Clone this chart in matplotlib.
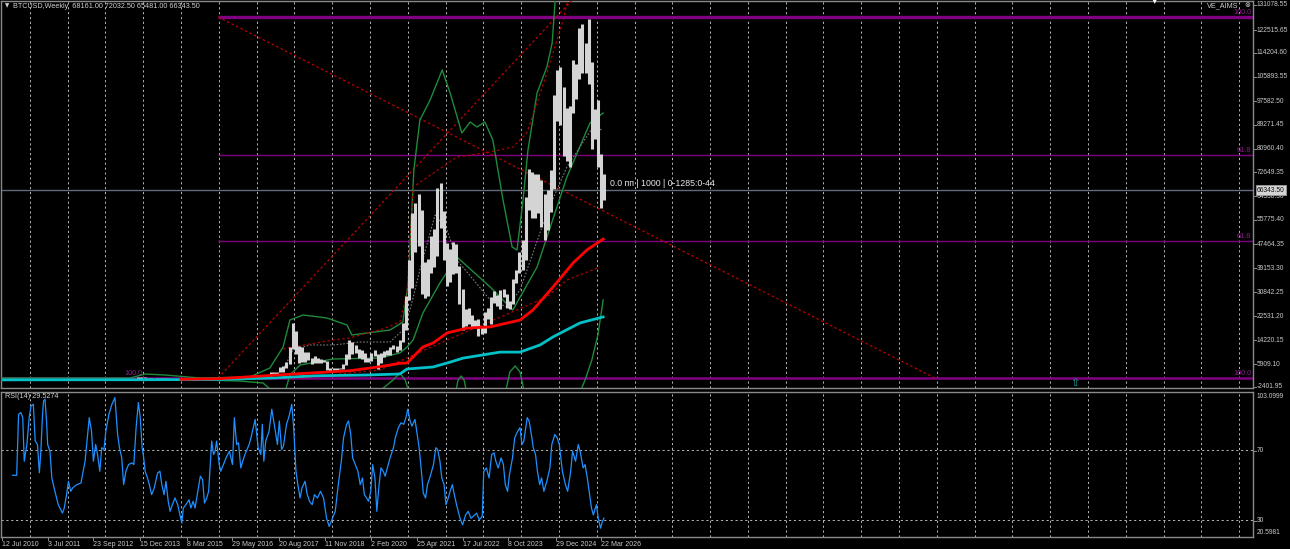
import matplotlib
matplotlib.use("Agg")
import matplotlib.pyplot as plt
import pandas as pd

W, H = 1290, 549

# ---------------- data ----------------
months = pd.date_range("2013-01-01", "2026-03-01", freq="MS")
price_high = [21, 33, 95, 266, 140, 130, 110, 135, 145, 215, 1240, 1150,
              1000, 900, 720, 550, 630, 680, 650, 600, 500, 420, 460, 400,
              320, 265, 300, 260, 250, 270, 320, 290, 250, 330, 500, 470,
              465, 440, 440, 470, 550, 780, 700, 620, 620, 720, 760, 980,
              1150, 1200, 1300, 1350, 2800, 3000, 2950, 4750, 5000, 6450, 11500, 19800,
              17200, 11800, 11700, 9800, 10000, 7800, 8500, 7700, 7400, 7000, 6600, 4300,
              4100, 4200, 4100, 5650, 9000, 13900, 13200, 12300, 10900, 10400, 9500, 7700,
              9600, 10500, 9200, 9450, 10100, 10400, 11450, 12450, 12100, 14100, 19900, 29300,
              42000, 58400, 61800, 64900, 59600, 41300, 42400, 50500, 52900, 67000, 69000, 59100,
              48000, 45800, 48200, 47400, 40000, 31900, 24700, 25200, 22800, 21000, 21500, 18400,
              23900, 25200, 29200, 31000, 29800, 31400, 31800, 30200, 27500, 35200, 38400, 44700,
              48900, 63900, 73800, 72700, 71900, 72000, 70000, 65000, 66500, 73600, 99600, 108300,
              109400, 102500, 95000, 95700, 111900, 110600, 123200, 124500, 117900, 126200, 111200, 94600,
              97900, 79000, 72032]
price_low = [13, 19, 33, 50, 80, 90, 65, 100, 120, 120, 200, 450,
             750, 400, 440, 340, 420, 550, 560, 450, 360, 280, 320, 300,
             160, 210, 230, 215, 225, 220, 250, 200, 225, 235, 310, 350,
             350, 370, 400, 410, 440, 520, 600, 470, 590, 600, 680, 740,
             750, 910, 900, 1050, 1350, 2200, 1800, 2700, 2950, 4100, 5500, 10800,
             9000, 6000, 6500, 6500, 7000, 5750, 5850, 5900, 6100, 6200, 3700, 3150,
             3400, 3350, 3900, 4000, 5300, 7400, 9100, 9400, 7700, 7300, 6500, 6400,
             6850, 8500, 3850, 6150, 8100, 8900, 8950, 10950, 9850, 10400, 13200, 17600,
             28100, 32300, 44900, 47000, 30000, 28800, 29300, 37300, 39600, 43300, 53300, 42000,
             32900, 34300, 37200, 37600, 26700, 17600, 18800, 19600, 18200, 18200, 15500, 16300,
             16500, 21400, 19600, 26900, 25800, 24800, 28900, 25200, 24900, 26600, 34100, 37600,
             38500, 41900, 59300, 56500, 56600, 58400, 53500, 49000, 52500, 58900, 66800, 90500,
             89200, 78200, 76600, 74400, 93400, 98200, 105100, 107300, 107300, 103500, 80600, 84400,
             74500, 60000, 63000]
last_close = 66343.50

# moving averages (decimal year, price)
ma_red_x = [2015.0, 2016.0, 2017.54, 2019.47, 2020.26, 2020.79, 2020.98, 2021.40, 2021.67, 2022.04,
            2022.57, 2023.18, 2023.97, 2024.31, 2024.84, 2025.37, 2025.74, 2026.17]
ma_red_y = [300, 500, 1799, 3300, 4700, 5890, 6000, 11600, 13000, 16500,
            18200, 18600, 21000, 24500, 32500, 40900, 45500, 49300]
ma_cyan_x = [2010.3, 2014.0, 2016.0, 2017.5, 2018.5, 2019.92, 2020.79, 2020.98, 2021.67, 2022.12,
             2022.46, 2023.44, 2023.97, 2024.50, 2024.84, 2025.56, 2026.17]
ma_cyan_y = [100, 150, 250, 800, 1500, 1800, 2150, 3900, 4600, 6300,
             7700, 9800, 9800, 12300, 15100, 20000, 22100]

env_lo_x = [2016.0, 2018.15, 2020.26, 2022.04, 2023.70, 2024.68, 2025.21, 2026.09]
env_lo_y = [300, 751, 3547, 14029, 23464, 29054, 34994, 39536]
env_up_x = [2017.70, 2017.80, 2019.02, 2019.47, 2019.92, 2020.26, 2020.79, 2020.98, 2021.14,
            2022.30, 2023.18, 2023.78, 2024.15, 2024.68, 2025.11, 2025.29]
env_up_y = [10900, 11234, 14029, 14728, 16475, 17524, 20319, 30452, 67487,
            77970, 79716, 81463, 86355, 107320, 125838, 136000]

bb_up_x = [2010.21, 2013.65, 2014.05, 2014.58, 2015.50, 2016.82, 2017.35, 2017.70, 2017.88, 2018.23,
           2018.86, 2019.39, 2019.52, 2019.92, 2020.53, 2020.87, 2021.01, 2021.08, 2021.16, 2021.32,
           2021.59, 2021.91, 2022.12, 2022.43, 2022.65, 2022.83, 2023.04, 2023.25, 2023.52, 2023.76,
           2023.89, 2024.05, 2024.18, 2024.42, 2024.68, 2024.82, 2024.90, 2024.97]
bb_up_y = [751, 751, 2149, 1799, 751, 1100, 4246, 11583, 21018, 22766,
           21717, 19271, 15776, 16475, 17524, 20319, 33946, 52463, 73427, 90897,
           97885, 108368, 100331, 86355, 90198, 88451, 90198, 83909, 62945, 46524,
           45475, 62945, 80415, 100331, 109416, 117801, 132826, 143307]
bb_lo_x = [2017.75, 2017.88, 2018.15, 2019.02, 2020.26, 2020.79, 2020.98, 2021.14, 2021.40, 2021.85,
           2022.30, 2023.18, 2023.78, 2024.42, 2025.21, 2025.82, 2026.17]
bb_lo_y = [-4140, 1799, 5294, 7391, 7740, 9487, 11583, 14029, 23464, 33946,
           43030, 32548, 24512, 39536, 70981, 89849, 93343]
bb_ext_x = [2010.21, 2015.50, 2016.56, 2017.17, 2017.54, 2020.13, 2020.61, 2020.79, 2020.93, 2021.06,
            2022.25, 2022.33, 2022.41, 2022.49, 2022.57, 2023.57, 2023.70, 2023.84, 2023.97, 2024.10,
            2025.56, 2025.69, 2025.87, 2026.03, 2026.17]
bb_ext_y = [52, 52, -297, -997, -5188, -5188, 52, 2498, 52, -5188,
            -5188, 52, 1450, 52, -5188, -5188, 2848, 4945, 2848, -5188,
            -4140, 52, 7041, 15776, 28006]
bb_mid_x = [2017.70, 2017.96, 2018.41, 2019.02, 2019.74, 2020.53, 2020.87, 2021.06, 2021.32, 2021.72,
            2022.04, 2022.30, 2023.18, 2023.63, 2023.97, 2024.68, 2025.21, 2025.90, 2026.14]
bb_mid_y = [3547, 10535, 12282, 12282, 13330, 13330, 17524, 24512, 38488, 57704,
            52463, 41982, 28006, 25560, 31500, 58403, 74475, 88451, 87403]

trend_up_x = [2015.98, 2025.35]
trend_up_y = [751, 132826]
trend_dn_x = [2015.98, 2034.95]
trend_dn_y = [126886, 751]

fib_levels = [126886, 78668, 48620, 751]
fib_labels = ["100.0", "61.8", "61.8", "100.0"]
fib_start = 2015.98

arrow_x, arrow_y = 2038.66, -1100

rsi_x = [2010.54, 2010.65, 2010.70, 2010.76, 2010.81, 2010.85, 2010.89, 2010.92, 2010.98, 2011.03,
         2011.09, 2011.14, 2011.20, 2011.25, 2011.29, 2011.33, 2011.36, 2011.40, 2011.44, 2011.47,
         2011.53, 2011.58, 2011.64, 2011.75, 2011.86, 2011.91, 2011.97, 2012.02, 2012.08, 2012.13,
         2012.24, 2012.35, 2012.46, 2012.57, 2012.63, 2012.68, 2012.74, 2012.79, 2012.85, 2012.90,
         2012.96, 2013.01, 2013.09, 2013.17, 2013.25, 2013.32, 2013.37, 2013.43, 2013.48, 2013.54,
         2013.61, 2013.70, 2013.75, 2013.81, 2013.87, 2013.92, 2013.97, 2014.00, 2014.05, 2014.11,
         2014.16, 2014.22, 2014.29, 2014.38, 2014.44, 2014.49, 2014.55, 2014.60, 2014.66, 2014.71,
         2014.77, 2014.84, 2014.91, 2014.95, 2015.02, 2015.06, 2015.13, 2015.21, 2015.26, 2015.32,
         2015.37, 2015.46, 2015.51, 2015.57, 2015.62, 2015.68, 2015.73, 2015.81, 2015.86, 2015.90,
         2015.94, 2016.01, 2016.05, 2016.12, 2016.19, 2016.28, 2016.36, 2016.41, 2016.47, 2016.52,
         2016.58, 2016.63, 2016.69, 2016.80, 2016.85, 2016.96, 2017.04, 2017.11, 2017.15, 2017.19,
         2017.24, 2017.33, 2017.40, 2017.48, 2017.55, 2017.60, 2017.66, 2017.71, 2017.79, 2017.86,
         2017.93, 2017.98, 2018.04, 2018.09, 2018.15, 2018.20, 2018.28, 2018.34, 2018.40, 2018.47,
         2018.53, 2018.61, 2018.69, 2018.77, 2018.85, 2018.92, 2018.99, 2019.08, 2019.16, 2019.24,
         2019.30, 2019.38, 2019.43, 2019.49, 2019.54, 2019.61, 2019.68, 2019.74, 2019.80, 2019.85,
         2019.91, 2019.96, 2020.02, 2020.07, 2020.13, 2020.18, 2020.24, 2020.29, 2020.35, 2020.40,
         2020.46, 2020.53, 2020.62, 2020.67, 2020.75, 2020.82, 2020.89, 2020.95, 2021.00, 2021.06,
         2021.11, 2021.19, 2021.25, 2021.30, 2021.36, 2021.41, 2021.47, 2021.52, 2021.58, 2021.63,
         2021.68, 2021.74, 2021.79, 2021.85, 2021.90, 2021.96, 2022.01, 2022.07, 2022.12, 2022.18,
         2022.23, 2022.29, 2022.38, 2022.45, 2022.53, 2022.60, 2022.67, 2022.73, 2022.82, 2022.89,
         2022.97, 2023.01, 2023.08, 2023.15, 2023.22, 2023.28, 2023.33, 2023.39, 2023.47, 2023.53,
         2023.58, 2023.64, 2023.69, 2023.77, 2023.83, 2023.91, 2023.97, 2024.02, 2024.07, 2024.16,
         2024.21, 2024.27, 2024.32, 2024.38, 2024.43, 2024.49, 2024.54, 2024.60, 2024.68, 2024.76,
         2024.81, 2024.89, 2024.95, 2025.01, 2025.09, 2025.17, 2025.23, 2025.31, 2025.36, 2025.44,
         2025.51, 2025.56, 2025.64, 2025.69, 2025.75, 2025.80, 2025.86, 2025.91, 2025.99, 2026.04,
         2026.10, 2026.15, 2026.19]
rsi_y = [55.7, 55.7, 90.4, 91.4, 88.5, 63.7, 69.4, 73.2, 88.5, 95.2,
         96.1, 75.2, 73.2, 57.1, 69.4, 88.5, 98.0, 99.0, 86.6, 73.2,
         69.4, 54.2, 48.5, 39.0, 34.2, 37.1, 44.7, 52.3, 46.6, 48.5,
         50.4, 51.3, 63.7, 88.5, 80.9, 63.7, 73.2, 67.5, 58.0, 71.4,
         70.4, 80.9, 90.4, 96.1, 99.9, 79.0, 71.4, 65.6, 50.4, 58.0,
         61.8, 62.8, 61.8, 82.8, 97.1, 88.5, 71.4, 67.5, 58.0, 54.2,
         50.4, 44.7, 48.5, 57.1, 58.0, 50.4, 44.7, 52.3, 40.9, 35.2,
         39.0, 42.8, 39.0, 35.2, 28.5, 37.1, 39.0, 41.8, 37.1, 40.9,
         37.1, 48.5, 55.2, 53.2, 39.9, 42.8, 46.6, 75.2, 67.5, 69.4,
         75.2, 61.8, 58.0, 61.8, 65.6, 69.4, 61.8, 88.5, 73.2, 74.2,
         59.9, 63.7, 67.5, 73.2, 77.1, 87.5, 71.4, 67.5, 84.7, 63.7,
         75.2, 80.9, 93.3, 82.8, 73.2, 86.6, 70.4, 72.3, 84.7, 89.4,
         96.1, 82.8, 58.0, 50.4, 42.8, 48.5, 52.3, 44.7, 40.9, 39.0,
         44.7, 42.8, 46.6, 42.8, 31.3, 26.6, 30.4, 35.2, 50.4, 63.7,
         77.1, 84.7, 86.6, 79.0, 65.6, 61.8, 58.0, 50.4, 54.2, 44.7,
         42.8, 40.9, 46.6, 61.8, 54.2, 35.2, 50.4, 59.9, 58.0, 55.2,
         59.9, 65.6, 71.4, 77.1, 82.8, 85.6, 84.7, 88.5, 93.3, 86.6,
         83.7, 87.5, 78.9, 71.4, 58.0, 45.6, 42.8, 50.4, 54.2, 58.0,
         61.8, 71.4, 70.4, 63.7, 54.2, 50.4, 39.0, 42.8, 46.6, 50.4,
         44.7, 39.0, 31.3, 27.5, 33.2, 35.2, 31.3, 32.3, 34.2, 30.4,
         32.3, 58.0, 59.9, 54.2, 67.5, 68.5, 63.7, 59.9, 65.6, 61.8,
         50.4, 46.6, 56.1, 65.6, 77.1, 80.9, 82.8, 73.2, 75.2, 88.5,
         86.6, 78.9, 71.4, 67.5, 58.0, 50.4, 54.2, 46.6, 52.3, 59.9,
         73.2, 78.9, 77.1, 73.2, 58.0, 50.4, 46.6, 58.0, 69.4, 63.7,
         73.2, 69.4, 59.9, 61.8, 54.2, 46.6, 37.1, 33.2, 39.0, 31.3,
         25.6, 29.4, 31.3]
rsi_last = 29.5274

# axis labels (text)
price_ticks = ["131078.55", "122515.65", "114204.60", "105893.55", "97582.50", "89271.45",
               "80960.40", "72649.35", "64338.30", "55775.40", "47464.35", "39153.30",
               "30842.25", "22531.20", "14220.15", "5909.10", "-2401.95"]
date_labels = ["12 Jul 2010", "3 Jul 2011", "23 Sep 2012", "15 Dec 2013", "8 Mar 2015",
               "29 May 2016", "20 Aug 2017", "11 Nov 2018", "2 Feb 2020", "25 Apr 2021",
               "17 Jul 2022", "8 Oct 2023", "29 Dec 2024", "22 Mar 2026"]

# ---------------- figure ----------------
plt.rcParams['font.family'] = ['Liberation Sans', 'DejaVu Sans']
fig = plt.figure(figsize=(W / 100, H / 100), dpi=100, facecolor='black')

XL = (2010.235, 2043.366)
ax = fig.add_axes([1 / W, 1 - 388 / H, 1252 / W, 387 / H])
rx = fig.add_axes([1 / W, 1 - 537 / H, 1252 / W, 145 / H])
for a in (ax, rx):
    a.set_facecolor('black')
    a.set_xlim(*XL)
    a.set_xticks([])
    a.set_yticks([])
    for s in a.spines.values():
        s.set_color('#8a8a8a')
        s.set_linewidth(1.0)
    for yr in range(2011, 2044):
        a.axvline(yr, color='#b8b8b8', lw=0.7, ls=(0, (2.2, 2.8)), zorder=1)

ax.set_ylim(-2741, 132476)
rx.set_ylim(20.5981, 103.0999)

# current price line
ax.axhline(last_close, color='#5f6b7a', lw=1.0, zorder=2)

# fibonacci purple lines
ax.hlines(fib_levels[0], fib_start, XL[1], color='#800080', lw=2.4, zorder=2)
ax.hlines(fib_levels[1:3], fib_start, XL[1], color='#800080', lw=1.0, zorder=2)
ax.axhline(fib_levels[3], color='#800080', lw=1.8, zorder=2)
for lev, lab in zip(fib_levels, fib_labels):
    ax.text(XL[1] - 0.05, lev + 500, lab, color='#8b1a8b', fontsize=5.2,
            ha='right', va='bottom', zorder=6)
ax.text(2013.75, fib_levels[3] + 300, "100.0", color='#8b1a8b', fontsize=5.2,
        ha='center', va='bottom', zorder=6)

# trend lines
ax.plot(trend_up_x, trend_up_y, color='#c00000', lw=0.9, ls=(0, (2, 2)), zorder=3)
ax.plot(trend_dn_x, trend_dn_y, color='#c00000', lw=0.9, ls=(0, (2, 2)), zorder=3)

# bands
g = '#1f8a3c'
ax.plot(bb_up_x, bb_up_y, color=g, lw=1.0, zorder=3)
ax.plot(bb_lo_x, bb_lo_y, color=g, lw=1.0, zorder=3)
ax.plot(bb_ext_x, bb_ext_y, color=g, lw=1.0, zorder=3)
ax.plot(bb_mid_x, bb_mid_y, color='#7a7a7a', lw=0.8, ls=(0, (1.5, 1.5)), zorder=3)
ax.plot(env_up_x, env_up_y, color='#b00000', lw=0.9, ls=(0, (2, 2)), zorder=3)
ax.plot(env_lo_x, env_lo_y, color='#b00000', lw=0.9, ls=(0, (2, 2)), zorder=3)

# price bars
mx = months.year + (months.dayofyear - 1 + 14) / 365.25
ax.vlines(mx, price_low, price_high, color='#d4d4d4', lw=2.2, zorder=4)

# moving averages
ax.plot(ma_cyan_x, ma_cyan_y, color='#00c0c8', lw=2.0, zorder=5)
ax.plot(ma_red_x, ma_red_y, color='#ff0000', lw=2.0, zorder=5)

# arrow object
ax.text(arrow_x, arrow_y, "⇧", color='#20a0a0', fontsize=8, ha='center', va='center',
        family='DejaVu Sans', zorder=6)

# object description
ax.text(2026.35, last_close + 800, "0.0 пп | 1000 | 0-1285:0-44", color='#e8e8e8',
        fontsize=6.3, ha='left', va='bottom', zorder=6)

# RSI
rx.axhline(70, color='#b8b8b8', lw=0.7, ls=(0, (2.2, 2.8)), zorder=1)
rx.axhline(30, color='#b8b8b8', lw=0.7, ls=(0, (2.2, 2.8)), zorder=1)
rx.plot(rsi_x, rsi_y, color='#1e90ff', lw=0.9, zorder=3)
fig.text(5 / W, 1 - 397 / H, f"RSI(14) {rsi_last:.4f}", color='#d0d0d0', fontsize=5.2,
         ha='left', va='center')

# header texts
fig.text(5 / W, 1 - 6 / H, "▼", color='#d0d0d0', fontsize=4, ha='left', va='center',
         family='DejaVu Sans')
fig.text(13 / W, 1 - 6 / H, "BTCUSD,Weekly  68161.00 72032.50 65481.00 66343.50",
         color='#d0d0d0', fontsize=5.2, ha='left', va='center')
fig.text(1207 / W, 1 - 6 / H, "VE_AIMS", color='#d0d0d0', fontsize=5.2, ha='left', va='center')
fig.text(1247 / W, 1 - 5 / H, "⊗", color='#d0d0d0', fontsize=5.0, ha='center', va='center',
         family='DejaVu Sans')
fig.text(1155 / W, 1 - 1 / H, "▼", color='#ffffff', fontsize=5, ha='center', va='center',
         family='DejaVu Sans')

# price scale labels
pt_y = [5, 30, 53, 77, 101, 125, 149, 172, 196, 220, 244, 268, 292, 316, 340, 364, 387]
for lab, yp in zip(price_ticks, pt_y):
    fig.text(1257 / W, 1 - yp / H, lab, color='#c8c8c8', fontsize=4.8, ha='left', va='center')
    fig.add_artist(plt.Line2D([1253 / W, 1256 / W], [1 - yp / H] * 2, color='#8a8a8a', lw=0.7))
fig.text(1257 / W, 1 - 190 / H, f"{last_close:.2f}", color='#101010', fontsize=4.8,
         ha='left', va='center',
         bbox=dict(boxstyle='square,pad=0.2', facecolor='#d4d4d4', edgecolor='#9a9a9a', lw=0.6))

# rsi scale labels
for lab, yp in [("103.0999", 396), ("70", 451), ("30", 521), ("20.5981", 532)]:
    fig.text(1257 / W, 1 - yp / H, lab, color='#c8c8c8', fontsize=4.8, ha='left', va='center')
for yp in (451, 521):
    fig.add_artist(plt.Line2D([1253 / W, 1256 / W], [1 - yp / H] * 2, color='#8a8a8a', lw=0.7))

# date labels
dl_x = [2, 48, 93, 140, 187, 232, 279, 325, 371, 417, 463, 508, 556, 601]
for lab, xp in zip(date_labels, dl_x):
    fig.text(xp / W, 1 - 544 / H, lab, color='#c8c8c8', fontsize=5.0, ha='left', va='center')
    fig.add_artist(plt.Line2D([xp / W] * 2, [1 - 537 / H, 1 - 540 / H], color='#8a8a8a', lw=0.7))

fig.savefig("out.png", dpi=100, facecolor='black')
